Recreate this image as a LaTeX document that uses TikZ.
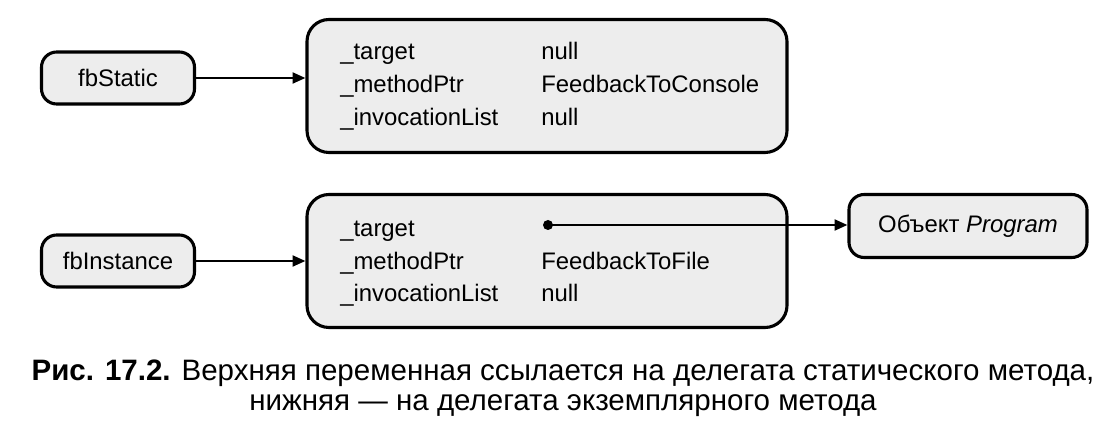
\documentclass[tikz,border=0pt]{standalone}
\usepackage{fontspec}
\setmainfont{Liberation Sans}
\usetikzlibrary{arrows.meta}
\begin{document}
\begin{tikzpicture}[node distance=3cm, auto]

% Define styles
\tikzstyle{var} = [draw, rectangle, rounded corners=0.38cm, line width=2.2pt, fill=black!7, minimum width=3.825cm, minimum height=1.3cm, font=\fontsize{17}{20}\selectfont]
\tikzstyle{record} = [draw, rectangle, rounded corners=0.55cm, line width=2.2pt, fill=black!7, minimum width=12cm, minimum height=3.325cm]
\tikzstyle{field} = [anchor=base west, inner sep=0pt, font=\fontsize{17}{20}\selectfont]
\tikzstyle{line} = [-{Triangle[length=0.32cm, width=0.27cm]}, line width=1.7pt]

\useasboundingbox (-2.95,-8.65) rectangle (24.925,1.95);

% First row
\node[var] (fbstatic) {fbStatic};
\node[record, right of=fbstatic, node distance=10.725cm, yshift=-0.2cm] (staticrec) {};
\node[field] (st1) at ([shift={(-5.175,0.66)}]staticrec.center) {\_target};
\node[field] (st2) at ([shift={(-5.175,-0.165)}]staticrec.center) {\_methodPtr};
\node[field] (st3) at ([shift={(-5.175,-0.99)}]staticrec.center) {\_invocationList};
\node[field] (sv1) at ([shift={(-0.15,0.66)}]staticrec.center) {null};
\node[field] (sv2) at ([shift={(-0.15,-0.165)}]staticrec.center) {FeedbackToConsole};
\node[field] (sv3) at ([shift={(-0.15,-0.99)}]staticrec.center) {null};

% Second row
\node[var, below of=fbstatic, node distance=4.575cm] (fbinstance) {fbInstance};
\node[record, right of=fbinstance, node distance=10.725cm] (instrec) {};
\node[field] (it1) at ([shift={(-5.175,0.61)}]instrec.center) {\_target};
\node[field] (it2) at ([shift={(-5.175,-0.21)}]instrec.center) {\_methodPtr};
\node[field] (it3) at ([shift={(-5.175,-1.01)}]instrec.center) {\_invocationList};
\node[field] (iv2) at ([shift={(-0.15,-0.21)}]instrec.center) {FeedbackToFile};
\node[field] (iv3) at ([shift={(-0.15,-1.01)}]instrec.center) {null};
\node[circle, fill, inner sep=0pt, minimum size=0.25cm] (tdot) at ([shift={(0.025,0.9)}]instrec.center) {};
\node[var, minimum width=5.95cm, minimum height=1.575cm, right of=instrec, node distance=10.525cm, yshift=0.875cm] (program) {Объект \textit{Program}};

% Arrows
\draw[line] (fbstatic) -- (fbstatic -| staticrec.west);
\draw[line] (fbinstance) -- (instrec);
\draw[line] (tdot.center) -- (tdot -| program.west);

% Caption
\node[align=center, font=\fontsize{21}{21.5}\selectfont] (figcap) at (11.125,-7.75) {\textbf{Рис. 17.2.} Верхняя переменная ссылается на делегата статического метода,\\нижняя — на делегата экземплярного метода};

\end{tikzpicture}
\end{document}
